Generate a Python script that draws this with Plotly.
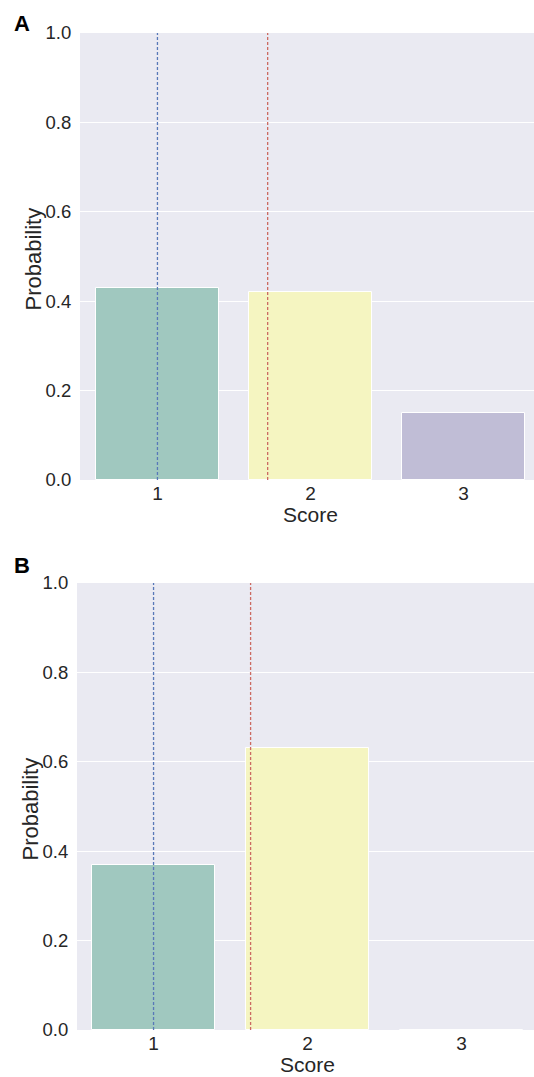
import plotly.graph_objects as go

W, H = 534, 1077

scores = [1, 2, 3]
tick_labels = ["1", "2", "3"]
prob_a = [0.43, 0.42, 0.15]
prob_b = [0.37, 0.63, 0.0]
true_a = 1
true_b = 1
mean_a = 1.72
mean_b = 1.63
y_ticks = [0.0, 0.2, 0.4, 0.6, 0.8, 1.0]
y_tick_labels = ["0.0", "0.2", "0.4", "0.6", "0.8", "1.0"]
bar_colors = ["#A0C8BF", "#F5F5C1", "#C0BDD6"]

BG = "#EAEAF2"
TXT = "#262626"
FONT = "Liberation Sans, Arial, sans-serif"

def py(px):
    return 1 - px / H

panels = [
    dict(name="A", probs=prob_a, true=true_a, mean=mean_a,
         left=80, top=33, bottom=480, xr=[0.494, 3.46], ylab_x=33, letter_y=24),
    dict(name="B", probs=prob_b, true=true_b, mean=mean_b,
         left=77, top=583, bottom=1030, xr=[0.503, 3.47], ylab_x=30, letter_y=565),
]

fig = go.Figure()
annotations = []
for i, p in enumerate(panels):
    xa = "x" if i == 0 else "x2"
    ya = "y" if i == 0 else "y2"
    fig.add_trace(go.Bar(
        x=scores, y=p["probs"], width=0.8,
        marker=dict(color=bar_colors, line=dict(color="white", width=1)),
        xaxis=xa, yaxis=ya, showlegend=False,
    ))
    fig.add_trace(go.Scatter(
        x=[p["true"], p["true"]], y=[0, 1], mode="lines",
        line=dict(color="#5878B8", width=1.3, dash="3px,2px"),
        xaxis=xa, yaxis=ya, showlegend=False,
    ))
    fig.add_trace(go.Scatter(
        x=[p["mean"], p["mean"]], y=[0, 1], mode="lines",
        line=dict(color="#CC6A62", width=1.3, dash="3px,2px"),
        xaxis=xa, yaxis=ya, showlegend=False,
    ))
    xkey = "xaxis" if i == 0 else "xaxis2"
    ykey = "yaxis" if i == 0 else "yaxis2"
    fig.update_layout(**{
        xkey: dict(
            domain=[p["left"] / W, 1], range=p["xr"], anchor=ya,
            tickvals=scores, ticktext=tick_labels, showgrid=False,
            zeroline=False, showline=False, automargin=False,
            ticks="",
            tickfont=dict(size=19, color=TXT, family=FONT),
        ),
        ykey: dict(
            domain=[py(p["bottom"]), py(p["top"])], range=[0, 1], anchor=xa,
            tickvals=y_ticks, ticktext=y_tick_labels,
            showgrid=True, gridcolor="white", gridwidth=1,
            zeroline=False, showline=False, automargin=False,
            ticks="outside", ticklen=4, tickcolor="rgba(0,0,0,0)",
            tickfont=dict(size=18.5, color=TXT, family=FONT),
        ),
    })
    annotations.append(dict(
        text="Score", x=2, xref=xa, y=py(p["bottom"] + 34.5), yref="paper",
        xanchor="center", yanchor="middle", showarrow=False,
        font=dict(size=21, color=TXT, family=FONT),
    ))
    annotations.append(dict(
        text="Probability", x=p["ylab_x"] / W, xref="paper",
        y=py((p["top"] + p["bottom"]) / 2 + 3), yref="paper", textangle=-90,
        xanchor="center", yanchor="middle", showarrow=False,
        font=dict(size=22, color=TXT, family=FONT),
    ))
    annotations.append(dict(
        text="<b>%s</b>" % p["name"], x=22 / W, xref="paper",
        y=py(p["letter_y"]), yref="paper",
        xanchor="center", yanchor="middle", showarrow=False,
        font=dict(size=22, color="black", family=FONT),
    ))

fig.update_layout(
    template="none",
    width=W, height=H,
    margin=dict(l=0, r=0, t=0, b=0, pad=0),
    paper_bgcolor="white", plot_bgcolor=BG,
    bargap=0, annotations=annotations,
    font=dict(family=FONT, color=TXT),
)

fig.write_html(
    "out.html",
    config={"displayModeBar": False},
    post_script="document.body.style.margin='0';document.body.style.overflow='hidden';",
)
